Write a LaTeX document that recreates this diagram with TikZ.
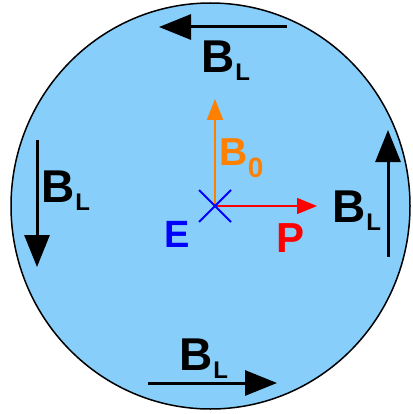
\documentclass[tikz,border=0pt]{standalone}
\usepackage{fontspec}
\setmainfont{Liberation Sans}
\usetikzlibrary{arrows.meta, calc}
\definecolor{cellblue}{HTML}{87CEFA}
\definecolor{fieldorange}{HTML}{FF8000}
\newcommand{\blabel}{B\hspace{1pt}\raisebox{-8pt}{\fontsize{24}{24}\selectfont L}}

\begin{document}
\begin{tikzpicture}[x=1pt, y=-1pt,
  lbl/.style={inner sep=0pt, anchor=base west, font=\fontsize{46}{46}\selectfont\bfseries},
  bl/.style={line width=3pt, -{Triangle[length=32pt, width=25pt]}}]
\useasboundingbox (0,0) rectangle (412,414);

% Cell
\draw[line width=1.5pt, fill=cellblue] (210.5,206) ellipse [x radius=199.5, y radius=203];

% Field arrow end points
\coordinate (topA) at (287,27);  \coordinate (topB) at (159,27);
\coordinate (lftA) at (37,140);  \coordinate (lftB) at (37,267);
\coordinate (rgtA) at (388,257); \coordinate (rgtB) at (388,130);
\coordinate (botA) at (148,383); \coordinate (botB) at (277,383);
\coordinate (orig) at (215,206);
\coordinate (bz) at (215,99);
\coordinate (pp) at (317,206);

% B_L arrows
\draw[bl] (topA) -- (topB);
\draw[bl] (lftA) -- (lftB);
\draw[bl] (rgtA) -- (rgtB);
\draw[bl] (botA) -- (botB);

% B_L labels
\node[lbl] (ltop) at (201,73) {\blabel};
\node[lbl] (llft) at (41,202) {\blabel};
\node[lbl] (lrgt) at (332,222) {\blabel};
\node[lbl] (lbot) at (179,370) {\blabel};

% B0 and P
\draw[fieldorange, line width=2pt, -{Triangle[length=21pt, width=16pt]}] (orig) -- (bz);
\draw[red, line width=1.5pt, -{Triangle[length=20pt, width=16pt]}] (orig) -- (pp);
\node[lbl, fieldorange, font=\fontsize{39}{39}\selectfont\bfseries] (lb0) at (219.5,165)
  {B\hspace{0pt}\raisebox{-12pt}{\fontsize{28}{28}\selectfont 0}};

% E (cross)
\draw[blue, line width=2pt] ($(orig)+(-16,-16)$) -- ($(orig)+(16,16)$);
\draw[blue, line width=2pt] ($(orig)+(-16,16)$) -- ($(orig)+(16,-16)$);
\node[lbl, blue, font=\fontsize{38}{38}\selectfont\bfseries] (le) at (164,247) {E};
\node[lbl, red, font=\fontsize{42}{42}\selectfont\bfseries] (lp) at (276,252) {P};

\end{tikzpicture}
\end{document}
